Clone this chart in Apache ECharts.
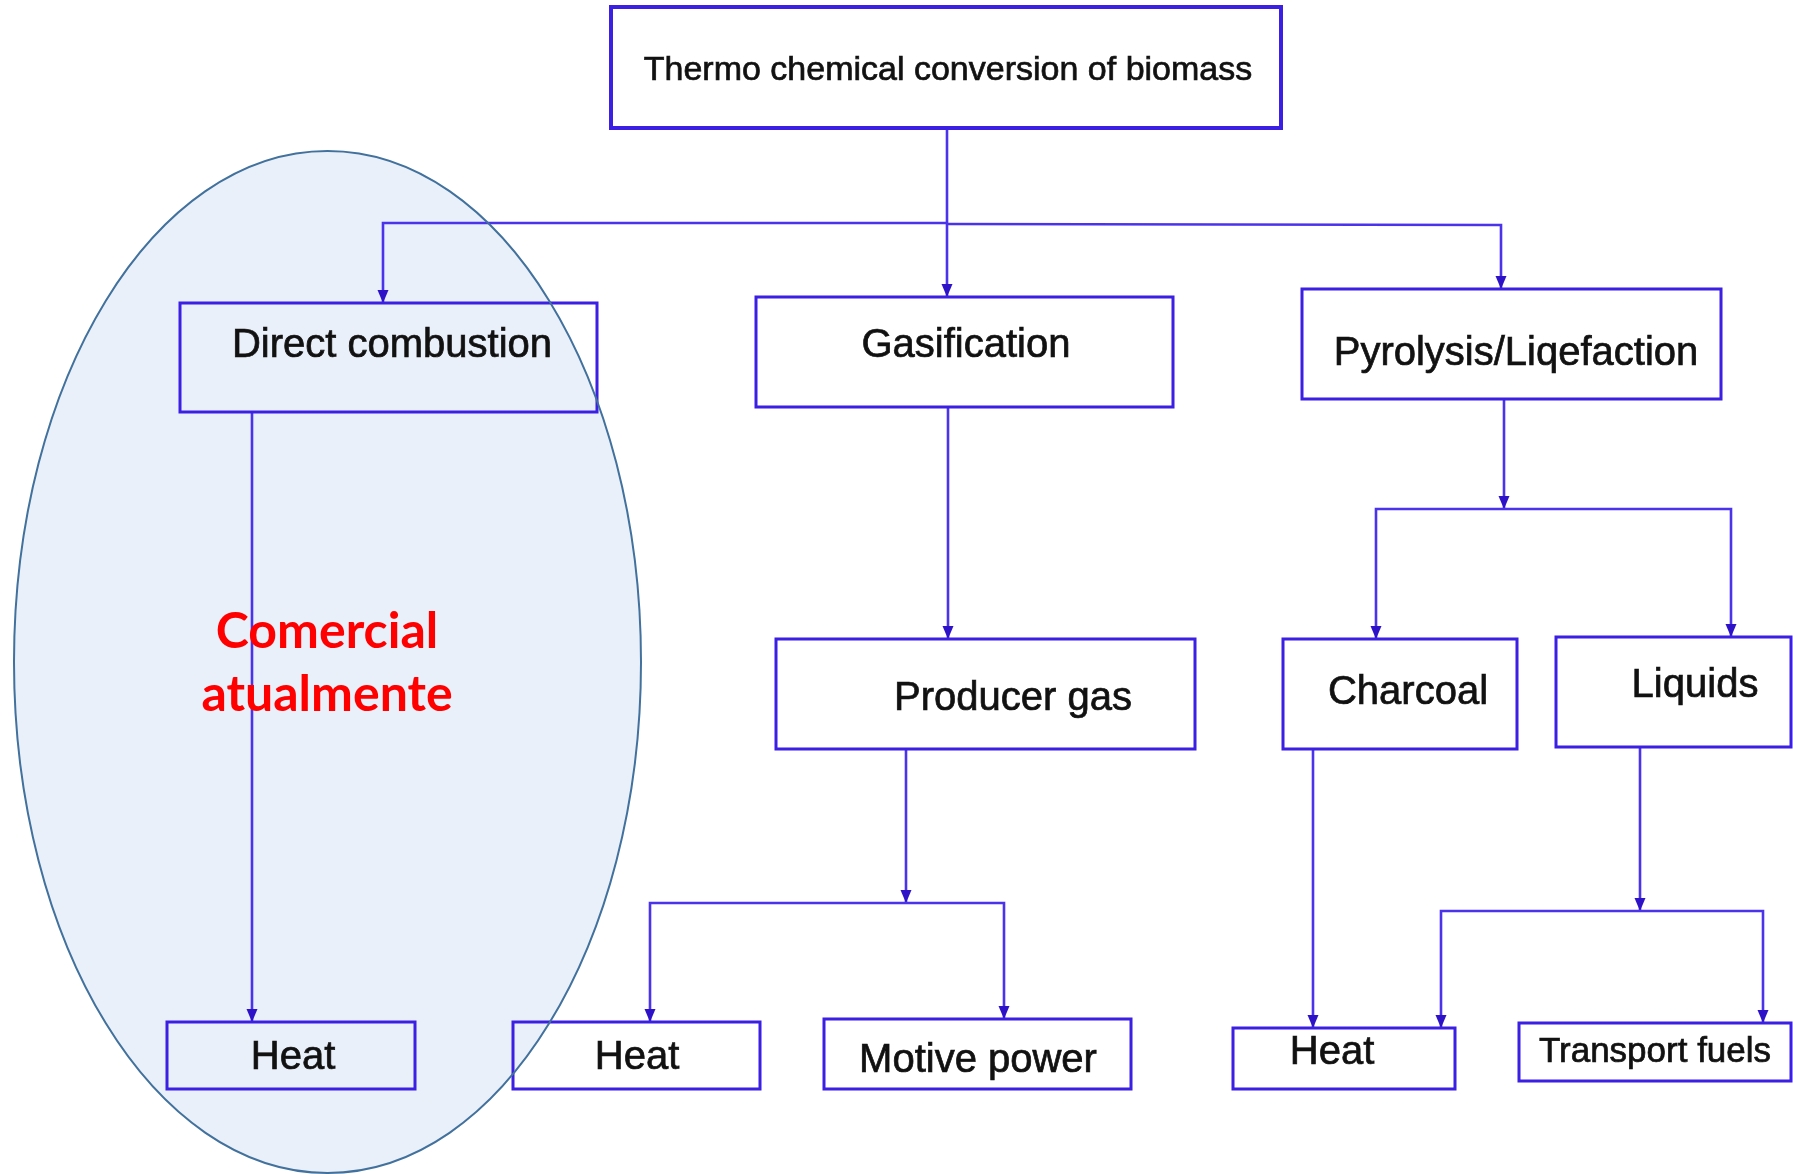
<!DOCTYPE html>
<html><head><meta charset="utf-8">
<script src="https://cdn.jsdelivr.net/npm/echarts@6/dist/echarts.min.js"></script>
<style>html,body{margin:0;padding:0;background:#fff;overflow:hidden}#c{width:1793px;height:1174px}</style>
</head><body><div id="c"></div>
<script>
// ---- content ----
const nodeNames = ['Thermo chemical conversion of biomass', 'Direct combustion', 'Gasification',
  'Pyrolysis/Liqefaction', 'Producer gas', 'Charcoal', 'Liquids', 'Heat', 'Heat', 'Motive power',
  'Heat', 'Transport fuels'];
const noteLines = ['Comercial', 'atualmente'];

// ---- layout (diagram units = pixels of the 1793x1174 sheet) ----
const nodeRects = [
  [611, 7, 1281, 128], [180, 303, 597, 412], [756, 297, 1173, 407], [1302, 289, 1721, 399],
  [776, 639, 1195, 749], [1283, 639, 1517, 749], [1556, 637, 1791, 747],
  [167, 1022, 415, 1089], [513, 1022, 760, 1089], [824, 1019, 1131, 1089],
  [1233, 1028, 1455, 1089], [1519, 1023, 1791, 1081]
];
const nodeTextAt = [
  [948, 71], [392, 346], [966, 346], [1516, 354], [1013, 699], [1408, 693], [1695, 686],
  [293, 1058], [637, 1058], [978, 1061], [1332, 1053], [1655, 1052]
];
const nodeFontSize = [34, 40, 40, 40, 40, 40, 40, 40, 40, 40, 40, 35];
const connectorPaths = [
  [[947, 128], [947, 297]],
  [[947, 223], [383, 223], [383, 303]],
  [[947, 224], [1501, 225], [1501, 289]],
  [[252, 412], [252, 1022]],
  [[948, 407], [948, 639]],
  [[906, 749], [906, 903]],
  [[906, 903], [650, 903], [650, 1022]],
  [[906, 903], [1004, 903], [1004, 1019]],
  [[1504, 399], [1504, 509]],
  [[1504, 509], [1376, 509], [1376, 639]],
  [[1504, 509], [1731, 509], [1731, 637]],
  [[1313, 749], [1313, 1028]],
  [[1640, 747], [1640, 911]],
  [[1640, 911], [1441, 911], [1441, 1028]],
  [[1640, 911], [1763, 911], [1763, 1023]]
];
const highlightEllipse = [327.5, 662, 313.5, 511]; // cx, cy, rx, ry
const noteAt = [[327, 632], [327, 695]];

const BOX = '#3b1fe3';
const LINK = '#4a33ea';

const chart = echarts.init(document.getElementById('c'), null, {renderer: 'canvas'});

function ellipseGeom(api) {
  const e = highlightEllipse;
  const c = api.coord([e[0], e[1]]);
  const ex = api.coord([e[0] + e[2], e[1] + e[3]]);
  return {cx: c[0], cy: c[1], rx: Math.abs(ex[0] - c[0]), ry: Math.abs(ex[1] - c[1])};
}

function renderBox(params, api) {
  const i = api.value(2);
  const r = nodeRects[i];
  const p1 = api.coord([r[0], r[1]]), p2 = api.coord([r[2], r[3]]);
  const t = api.coord(nodeTextAt[i]);
  return {
    type: 'group', children: [
      {type: 'rect', shape: {x: p1[0], y: p1[1], width: p2[0] - p1[0], height: p2[1] - p1[1]},
        style: {fill: null, stroke: BOX, lineWidth: i === 0 ? 4 : 3}},
      {type: 'text', x: t[0], y: t[1],
        style: {text: nodeNames[i], fill: '#111111', font: nodeFontSize[i] + 'px "Liberation Sans", Arial, sans-serif',
          align: 'center', verticalAlign: 'middle', stroke: '#111111', lineWidth: 0.7}}
    ]
  };
}

function renderLink(params, api) {
  const i = api.value(2);
  const pts = connectorPaths[i].map(p => api.coord(p));
  const a = pts[pts.length - 1], b = pts[pts.length - 2];
  const dx = a[0] - b[0], dy = a[1] - b[1];
  const len = Math.hypot(dx, dy) || 1;
  const ux = dx / len, uy = dy / len;
  const L = 13, W = 5.5;
  const base = [a[0] - ux * L, a[1] - uy * L];
  const tri = [a, [base[0] - uy * W, base[1] + ux * W], [base[0] + uy * W, base[1] - ux * W]];
  return {
    type: 'group', children: [
      {type: 'polyline', shape: {points: pts}, style: {stroke: LINK, lineWidth: 2.6, fill: null}},
      {type: 'polygon', shape: {points: tri}, style: {fill: '#2d12c8'}}
    ]
  };
}

function renderEllipseFill(params, api) {
  return {type: 'ellipse', shape: ellipseGeom(api), style: {fill: '#e9f0f9', stroke: null}};
}
function renderEllipseEdge(params, api) {
  return {type: 'ellipse', shape: ellipseGeom(api), style: {fill: null, stroke: '#41719c', lineWidth: 2}};
}

function renderNote(params, api) {
  const i = api.value(2);
  const p = api.coord(noteAt[i]);
  return {type: 'text', x: p[0], y: p[1],
    style: {text: noteLines[i], fill: '#ff0000', font: 'bold 50px Lato, "Open Sans", sans-serif',
      align: 'center', verticalAlign: 'middle'}};
}

const ellipseData = [[highlightEllipse[0], highlightEllipse[1], 0]];

chart.setOption({
  animation: false,
  grid: {left: 0, right: 0, top: 0, bottom: 0},
  xAxis: {type: 'value', min: 0, max: 1793, show: false},
  yAxis: {type: 'value', min: 0, max: 1174, inverse: true, show: false},
  series: [
    {type: 'custom', name: 'highlightFill', clip: false, z: 1, renderItem: renderEllipseFill,
      data: ellipseData, encode: {x: 0, y: 1}},
    {type: 'custom', name: 'links', clip: false, z: 2, renderItem: renderLink,
      data: connectorPaths.map((p, i) => [p[0][0], p[0][1], i]), encode: {x: 0, y: 1}},
    {type: 'custom', name: 'boxes', clip: false, z: 3, renderItem: renderBox,
      data: nodeRects.map((r, i) => [r[0], r[1], i]), encode: {x: 0, y: 1}},
    {type: 'custom', name: 'highlightEdge', clip: false, z: 4, renderItem: renderEllipseEdge,
      data: ellipseData, encode: {x: 0, y: 1}},
    {type: 'custom', name: 'note', clip: false, z: 5, renderItem: renderNote,
      data: noteAt.map((p, i) => [p[0], p[1], i]), encode: {x: 0, y: 1}}
  ]
});
</script></body></html>
